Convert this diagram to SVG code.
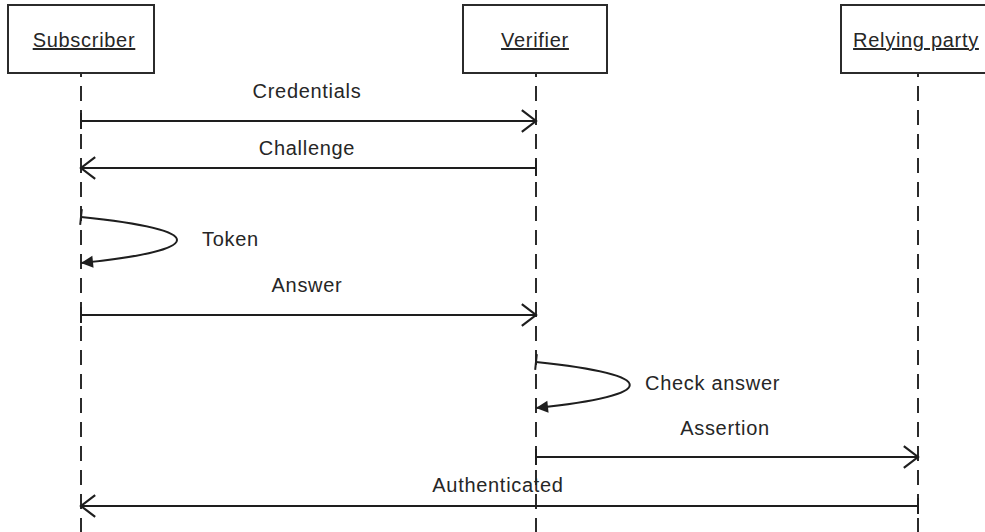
<svg xmlns="http://www.w3.org/2000/svg" width="985" height="532" viewBox="0 0 985 532">
  <style>
    .box { fill: #ffffff; stroke: #2b2b2b; stroke-width: 2; }
    .life { stroke: #2b2b2b; stroke-width: 2; stroke-dasharray: 15 9; fill: none; }
    .msg { stroke: #1e1e1e; stroke-width: 2; fill: none; }
    .lbl { font-family: "Liberation Sans", Arial, sans-serif; font-size: 20px; fill: #262626; letter-spacing: 0.7px; text-anchor: middle; }
    .lbl-l { text-anchor: start; }
    .name { text-decoration: underline; }
  </style>
  <defs>
    <marker id="open" markerUnits="userSpaceOnUse" markerWidth="20" markerHeight="24" viewBox="-14 -11 16 22" refX="0" refY="0" orient="auto">
      <path d="M-13,-10 L0,0 L-13,10" fill="none" stroke="#1e1e1e" stroke-width="2"/>
    </marker>
    <marker id="tick" markerUnits="userSpaceOnUse" markerWidth="6" markerHeight="20" viewBox="-3 -9 6 18" refX="0" refY="0" orient="auto">
      <line x1="0" y1="-8" x2="0" y2="8" stroke="#1e1e1e" stroke-width="2"/>
    </marker>
    <marker id="solid" markerUnits="userSpaceOnUse" markerWidth="16" markerHeight="14" viewBox="-13 -7 14 14" refX="0" refY="0" orient="auto">
      <path d="M-12,-6 L0,0 L-12,6 Z" fill="#1e1e1e"/>
    </marker>
  </defs>

  <!-- lifelines -->
  <g id="lifelines">
    <line class="life" x1="81" y1="62" x2="81" y2="532"/>
    <line class="life" x1="536" y1="62" x2="536" y2="532"/>
    <line class="life" x1="918" y1="62" x2="918" y2="532"/>
  </g>

  <!-- participants -->
  <g id="subscriber">
    <rect class="box" x="8" y="5" width="146" height="68"/>
    <text class="lbl name" x="84" y="47">Subscriber</text>
  </g>
  <g id="verifier">
    <rect class="box" x="463" y="5" width="144" height="68"/>
    <text class="lbl name" x="535" y="47">Verifier</text>
  </g>
  <g id="relying-party">
    <rect class="box" x="841" y="5" width="156" height="68"/>
    <text class="lbl name" x="916" y="47">Relying party</text>
  </g>

  <!-- messages -->
  <g id="connectors">
    <line class="msg" x1="81" y1="121" x2="536" y2="121" marker-start="url(#tick)" marker-end="url(#open)"/>
    <line class="msg" x1="536" y1="168" x2="81" y2="168" marker-start="url(#tick)" marker-end="url(#open)"/>
    <path class="msg" d="M81,217 C209,230 209,250 81,263" marker-start="url(#tick)" marker-end="url(#solid)"/>
    <line class="msg" x1="81" y1="315" x2="536" y2="315" marker-start="url(#tick)" marker-end="url(#open)"/>
    <path class="msg" d="M536,362 C661,375 661,395 536,408" marker-start="url(#tick)" marker-end="url(#solid)"/>
    <line class="msg" x1="536" y1="457" x2="918" y2="457" marker-start="url(#tick)" marker-end="url(#open)"/>
    <line class="msg" x1="918" y1="506" x2="81" y2="506" marker-start="url(#tick)" marker-end="url(#open)"/>
  </g>

  <!-- message labels -->
  <g id="labels">
    <text class="lbl" x="307" y="98">Credentials</text>
    <text class="lbl" x="307" y="155">Challenge</text>
    <text class="lbl lbl-l" x="202" y="246">Token</text>
    <text class="lbl" x="307" y="292">Answer</text>
    <text class="lbl lbl-l" x="645" y="390">Check answer</text>
    <text class="lbl" x="725" y="435">Assertion</text>
    <text class="lbl" x="498" y="492">Authenticated</text>
  </g>
</svg>
